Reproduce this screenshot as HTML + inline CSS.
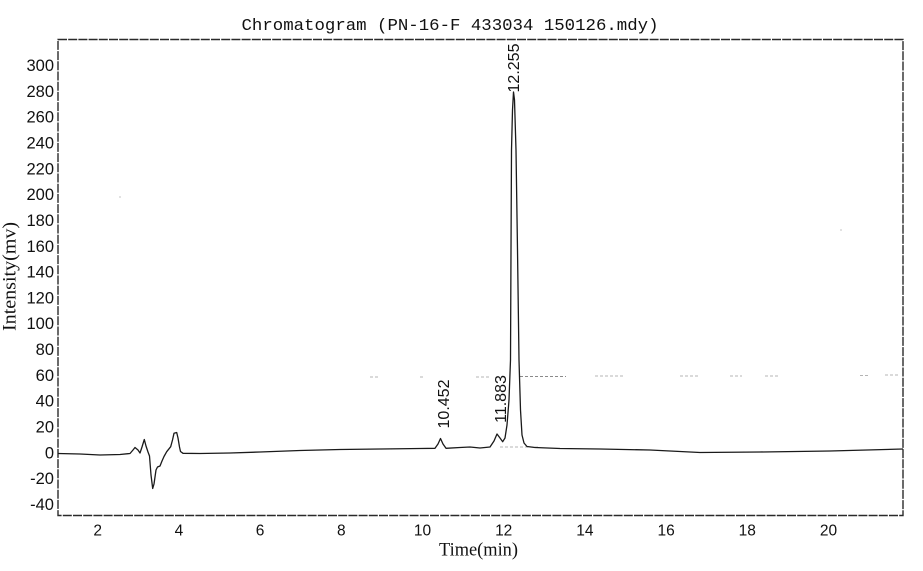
<!DOCTYPE html>
<html>
<head>
<meta charset="utf-8">
<style>
  html, body { margin:0; padding:0; background:#fff; }
  svg { display:block; }
</style>
</head>
<body>
<svg width="923" height="571" viewBox="0 0 923 571" xmlns="http://www.w3.org/2000/svg">
  <rect x="0" y="0" width="923" height="571" fill="#fff"/>
  <!-- Title -->
  <text x="450" y="30" font-family="Liberation Mono, monospace" font-size="17" text-anchor="middle" fill="#111" textLength="417" lengthAdjust="spacingAndGlyphs">Chromatogram (PN-16-F 433034 150126.mdy)</text>

  <!-- Plot frame -->
  <rect x="58" y="39.5" width="845" height="476" fill="none" stroke="#2a2a2a" stroke-width="1.4" stroke-dasharray="9 1.2"/>

  <!-- Y tick labels -->
  <g font-family="Liberation Sans, Arial, sans-serif" font-size="16.5" fill="#111" text-anchor="end">
    <text x="54" y="71">300</text>
    <text x="54" y="96.8">280</text>
    <text x="54" y="122.6">260</text>
    <text x="54" y="148.5">240</text>
    <text x="54" y="174.3">220</text>
    <text x="54" y="200.1">200</text>
    <text x="54" y="225.9">180</text>
    <text x="54" y="251.8">160</text>
    <text x="54" y="277.6">140</text>
    <text x="54" y="303.4">120</text>
    <text x="54" y="329.2">100</text>
    <text x="54" y="355.1">80</text>
    <text x="54" y="380.9">60</text>
    <text x="54" y="406.7">40</text>
    <text x="54" y="432.5">20</text>
    <text x="54" y="458.4">0</text>
    <text x="54" y="484.2">-20</text>
    <text x="54" y="510">-40</text>
  </g>

  <!-- X tick labels -->
  <g font-family="Liberation Sans, Arial, sans-serif" font-size="15.5" fill="#111" text-anchor="middle">
    <text x="97.7" y="535.5">2</text>
    <text x="178.9" y="535.5">4</text>
    <text x="260.1" y="535.5">6</text>
    <text x="341.3" y="535.5">8</text>
    <text x="422.5" y="535.5">10</text>
    <text x="503.7" y="535.5">12</text>
    <text x="584.9" y="535.5">14</text>
    <text x="666.1" y="535.5">16</text>
    <text x="747.3" y="535.5">18</text>
    <text x="828.5" y="535.5">20</text>
  </g>

  <!-- Axis titles -->
  <text x="478.5" y="555.5" font-family="Liberation Serif, Times New Roman, serif" font-size="18.5" text-anchor="middle" fill="#111" textLength="79" lengthAdjust="spacingAndGlyphs">Time(min)</text>
  <text transform="translate(15.5,276.5) rotate(-90)" x="0" y="0" font-family="Liberation Serif, Times New Roman, serif" font-size="19" text-anchor="middle" fill="#111" textLength="109" lengthAdjust="spacingAndGlyphs">Intensity(mv)</text>

  <!-- Faint dashed artifact lines -->
  <g stroke="#b4b4b4" stroke-width="1" fill="none" stroke-dasharray="3 2">
    <line x1="370" y1="377" x2="380" y2="377"/>
    <line x1="420" y1="377" x2="424" y2="377"/>
    <line x1="476" y1="377" x2="490" y2="377"/>
    <line x1="520" y1="376.5" x2="566" y2="376.5" stroke="#8a8a8a"/>
    <line x1="595" y1="376" x2="625" y2="376"/>
    <line x1="680" y1="376" x2="700" y2="376"/>
    <line x1="730" y1="376" x2="742" y2="376"/>
    <line x1="765" y1="376" x2="780" y2="376"/>
    <line x1="860" y1="375.5" x2="870" y2="375.5"/>
    <line x1="885" y1="375" x2="900" y2="375"/>
    <line x1="500" y1="447" x2="540" y2="447"/>
  </g>

  <!-- Chromatogram trace -->
  <polyline fill="none" stroke="#1a1a1a" stroke-width="1.3" stroke-linejoin="round" points="
    58,453.5 80,454 100,455 120,454.5 130,453.5 133,450 135,447.5 138,450 140,453 142,447 144.3,439.5 146,446 148,452 149.5,456
    151,475 152.7,488.5 154,484 156,470 157.5,467 160,466 162,461 164,456.5 166.7,451.7 170.7,446.7 172.5,440 174,433.3
    176.7,432.5 178,438 179.5,447 180.5,451.5 183,453.3 200,453.5 230,453 260,452 300,450.5 340,449.5 380,449 420,448.5
    435,448.3 438,444 440.5,438.5 443,444 446,448.3 460,447.5 470,447 480,448 490,447 494,441 497,434 500,438 502.7,441.7
    505,438 507,425 509,400 510.5,360 511,250 511.5,150 512.5,110 513.5,92 514.5,100 516,150 517.5,250 519,360 520.5,410
    522,435 524,443 527,446.5 535,447.5 560,448.5 600,449 650,450 700,452.5 760,452 830,451 903,449"/>

  <!-- Peak labels -->
  <g font-family="Liberation Sans, Arial, sans-serif" font-size="16" fill="#111" text-anchor="middle">
    <text transform="translate(449,404) rotate(-90)" x="0" y="0">10.452</text>
    <text transform="translate(506,399) rotate(-90)" x="0" y="0">11.883</text>
    <text transform="translate(519,68) rotate(-90)" x="0" y="0">12.255</text>
  </g>

  <!-- stray specks -->
  <circle cx="120" cy="197" r="0.6" fill="#999"/>
  <circle cx="841" cy="230" r="0.6" fill="#999"/>
</svg>
</body>
</html>
